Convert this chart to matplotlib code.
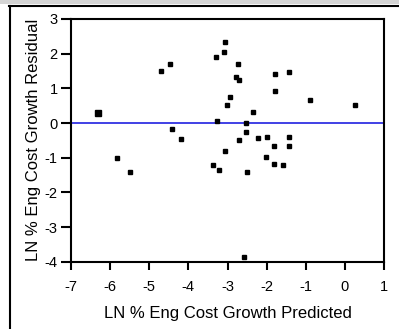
import matplotlib.pyplot as plt
from matplotlib.lines import Line2D
from matplotlib.patches import Rectangle

plt.rcParams['font.family'] = ['Liberation Sans', 'DejaVu Sans']
plt.rcParams['axes.unicode_minus'] = False

# predicted vs residual
pred = [-4.70, -4.46, -4.42, -4.18, -5.82, -5.49,
        -3.06, -3.10, -3.30, -2.74, -2.78, -2.70, -1.78, -1.42, -1.78,
        -2.94, -3.02, -0.90, 0.26, -2.34, -3.26, -2.53, -2.53, -2.70,
        -2.22, -1.98, -1.42, -1.82, -1.42, -3.06, -2.02, -1.82, -1.58,
        -3.38, -3.21, -2.49, -2.58]
resid = [1.50, 1.69, -0.18, -0.45, -1.00, -1.41,
         2.33, 2.05, 1.91, 1.69, 1.33, 1.24, 1.42, 1.47, 0.92,
         0.74, 0.51, 0.65, 0.51, 0.32, 0.07, 0.00, -0.27, -0.50,
         -0.44, -0.40, -0.40, -0.67, -0.66, -0.82, -0.99, -1.17, -1.21,
         -1.22, -1.36, -1.41, -3.87]
# the one larger marker
big_pred = [-6.30]
big_resid = [0.30]

xticks = [-7, -6, -5, -4, -3, -2, -1, 0, 1]
yticks = [-4, -3, -2, -1, 0, 1, 2, 3]

fig = plt.figure(figsize=(3.99, 3.29), dpi=100)

# window frame bits
fig.patches.append(Rectangle((0, 1 - 4 / 329), 1, 4 / 329, transform=fig.transFigure,
                             facecolor='#d4d4d4', edgecolor='none'))
fig.lines.append(Line2D([9 / 399, 1], [1 - 5.5 / 329, 1 - 5.5 / 329],
                        transform=fig.transFigure, color='black', lw=1.5))
fig.lines.append(Line2D([10 / 399, 10 / 399], [0, 1 - 5.5 / 329],
                        transform=fig.transFigure, color='black', lw=1.5))

ax = fig.add_axes([71 / 399, 1 - 261.7 / 329, 313 / 399, 242.7 / 329])
ax.axhline(0, color='#2020e0', lw=1.2, zorder=1)
ax.plot(pred, resid, 's', color='black', ms=3, zorder=2)
ax.plot(big_pred, big_resid, 's', color='black', ms=5, zorder=2)

ax.set_xlim(-7, 1)
ax.set_ylim(-4, 3)
ax.set_xticks(xticks)
ax.set_yticks(yticks)
for s in ax.spines.values():
    s.set_linewidth(1.5)
ax.tick_params(direction='out', width=1.5, labelsize=10.5)
ax.tick_params(axis='x', length=6, pad=7)
ax.tick_params(axis='y', length=7.5, pad=2)
ax.set_xlabel('LN % Eng Cost Growth Predicted', fontsize=12, labelpad=9)
ax.set_ylabel('LN % Eng Cost Growth Residual', fontsize=12, labelpad=3)

fig.savefig('out.png', dpi=100)
